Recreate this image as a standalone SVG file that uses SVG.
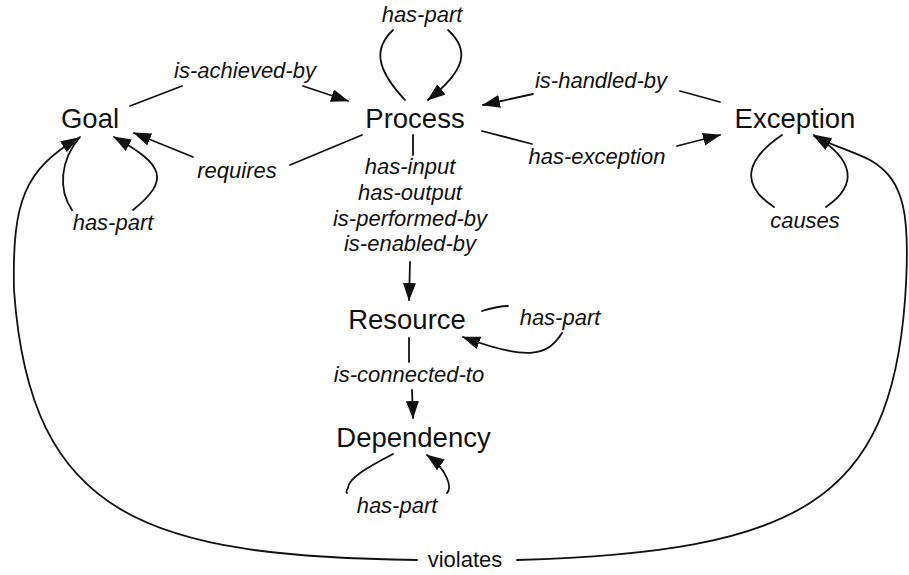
<svg xmlns="http://www.w3.org/2000/svg" width="909" height="575" viewBox="0 0 909 575">
<style>
.node{font-family:"Liberation Sans",Arial,sans-serif;font-size:27.5px;fill:#111;text-anchor:middle}
.lbl{font-family:"Liberation Sans",Arial,sans-serif;font-size:22px;font-style:italic;fill:#111;text-anchor:middle}
.plain{font-family:"Liberation Sans",Arial,sans-serif;font-size:22px;fill:#111;text-anchor:middle}
.e{fill:none;stroke:#111;stroke-width:1.8;stroke-linecap:round}
.a{marker-end:url(#ah)}
</style>
<defs>
<marker id="ah" markerUnits="userSpaceOnUse" markerWidth="20" markerHeight="14" refX="17" refY="6.5" orient="auto" viewBox="0 0 20 14">
<path d="M0,0 L18,6.5 L0,13 z" fill="#111"/>
</marker>
</defs>
<rect width="909" height="575" fill="#fff"/>
<g id="connectors">
<!-- is-achieved-by -->
<path class="e" d="M130,106 L182,86"/>
<path class="e a" d="M303,86 L348,101"/>
<!-- requires -->
<path class="e" d="M362,135 L290,165"/>
<path class="e a" d="M193,157 L134,133"/>
<!-- goal has-part -->
<path class="e" d="M80,137 C60,160 58,190 72,210"/>
<path class="e a" d="M133,210 C170,180 165,165 114,137"/>
<!-- process has-part -->
<path class="e" d="M405,100 C375,68 374,48 393,30"/>
<path class="e a" d="M448,30 C470,50 466,70 428,100"/>
<!-- is-handled-by -->
<path class="e" d="M720,102 L680,91"/>
<path class="e a" d="M533,94 L483,105"/>
<!-- has-exception -->
<path class="e" d="M482,131 L532,144"/>
<path class="e a" d="M677,146 L720,135"/>
<!-- causes -->
<path class="e" d="M782,135 C745,160 740,185 774,207"/>
<path class="e a" d="M826,207 C858,185 855,160 814,135"/>
<!-- process to resource -->
<path class="e" d="M413,135 L413,155"/>
<path class="e a" d="M410,262 L409,300"/>
<!-- resource has-part -->
<path class="e" d="M482,311 C492,308 500,306 508,306"/>
<path class="e a" d="M562,333 C548,355 530,362 463,337"/>
<!-- is-connected-to -->
<path class="e" d="M409,338 L409,362"/>
<path class="e a" d="M412,390 L413,418"/>
<!-- dependency has-part -->
<path class="e" d="M393,454 C370,466 348,478 348,488 C346,491 346,492 347,493"/>
<path class="e a" d="M447,493 C452,488 448,470 427,455"/>
<!-- violates -->
<path class="e a" d="M417,560 C150,556 30,520 14,290 C12,200 25,170 78,138"/>
<path class="e a" d="M517,560 C800,552 890,500 905,300 C911,215 905,180 870,160 C850,150 830,145 814,136"/>
</g>
<g id="node-goal"><text class="node" x="90" y="128">Goal</text></g>
<g id="node-process"><text class="node" x="415" y="128">Process</text></g>
<g id="node-exception"><text class="node" x="795" y="128">Exception</text></g>
<g id="node-resource"><text class="node" x="407" y="329">Resource</text></g>
<g id="node-dependency"><text class="node" x="413.5" y="447">Dependency</text></g>
<g id="labels">
<text class="lbl" x="422" y="22">has-part</text>
<text class="lbl" x="245" y="78">is-achieved-by</text>
<text class="lbl" x="237" y="178">requires</text>
<text class="lbl" x="113" y="230">has-part</text>
<text class="lbl" x="601" y="88">is-handled-by</text>
<text class="lbl" x="597" y="164">has-exception</text>
<text class="lbl" x="805" y="228">causes</text>
<text class="lbl" x="410" y="174">has-input</text>
<text class="lbl" x="410" y="200">has-output</text>
<text class="lbl" x="410" y="226">is-performed-by</text>
<text class="lbl" x="410" y="251">is-enabled-by</text>
<text class="lbl" x="560" y="325">has-part</text>
<text class="lbl" x="409" y="382">is-connected-to</text>
<text class="lbl" x="397" y="513">has-part</text>
<text class="plain" x="465" y="567">violates</text>
</g>
</svg>
